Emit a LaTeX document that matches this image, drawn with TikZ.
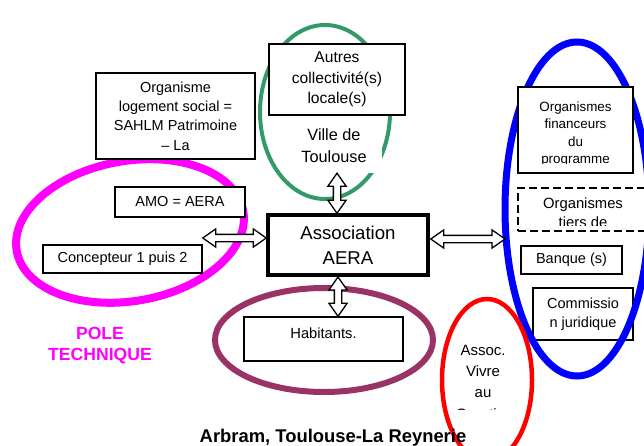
\documentclass[tikz,border=0pt]{standalone}
\usepackage{fontspec}
\setmainfont{Liberation Sans}
\usetikzlibrary{positioning, calc, shapes.arrows}
\definecolor{polepink}{RGB}{255, 0, 255}
\definecolor{villegreen}{RGB}{51, 153, 102}
\definecolor{habmaroon}{RGB}{153, 51, 102}
\definecolor{finblue}{RGB}{0, 0, 255}
\definecolor{assocred}{RGB}{255, 0, 0}
\newcommand{\fsz}[2]{\fontsize{#1}{#2}\selectfont}

\begin{document}
\begin{tikzpicture}[
    x=1pt, y=-1pt,
    box/.style={rectangle, draw, line width=1.5pt, fill=white, inner sep=0pt, align=center, font=\fsz{14.5}{19.3}},
    mainbox/.style={box, line width=3.5pt, font=\fsz{18.6}{25}},
    dashbox/.style={box, dash pattern=on 8pt off 4pt},
    txt/.style={inner sep=0pt, align=center},
    ring/.style={line width=#1},
    dblarrow/.style={double arrow, draw, line width=1.3pt, fill=white, inner sep=3pt, double arrow head extend=5.5pt, double arrow tip angle=70, double arrow head indent=0pt}
]

\useasboundingbox (0,0) rectangle (644,446);
\clip (0,0) rectangle (644,446);

% Collectivities
\draw[villegreen, ring=4pt] (325,112) ellipse [x radius=65pt, y radius=87pt];
\node[box, font=\fsz{15.6}{20.5}, minimum width=136pt, minimum height=71pt] (autres) at (337,79.5) {Autres\\collectivité(s)\\locale(s)};
\node[txt, fill=white, font=\fsz{16.3}{22}, minimum width=96pt, minimum height=54pt] (ville) at (334,146) {Ville de\\Toulouse};

% Pole technique
\draw[polepink, ring=8pt, rotate around={10:(130,231)}] (130,231) ellipse [x radius=115pt, y radius=70pt];
\node[box, minimum width=159pt, minimum height=86pt] (organisme) at (175.5,116) {Organisme\\logement social =\\SAHLM Patrimoine\\– La};
\node[box, minimum width=130pt, minimum height=30pt] (amo) at (180,202) {AMO = AERA};
\node[box, minimum width=159pt, minimum height=28pt] (concept) at (122.5,259) {Concepteur 1 puis 2};
\node[txt, polepink, font=\fsz{17.6}{21}\bfseries, anchor=north] (pole) at (100,327.5) {POLE\\TECHNIQUE};

% Financing
\node[box, minimum width=100pt, minimum height=52pt] (commission) at (583,314) {Commissio\\n juridique};
\draw[finblue, ring=7pt] (577,209) ellipse [x radius=72pt, y radius=167pt];
\node[box, minimum width=115pt, minimum height=86pt] (financeurs) at (575.5,130) {};
\begin{scope}
  \clip (financeurs.north west) rectangle ([yshift=10pt]financeurs.south east);
  \node[txt, font=\fsz{13.4}{17.5}, anchor=north] (fintext) at ([yshift=-15pt]financeurs.north) {Organismes\\financeurs\\du\\programme};
\end{scope}
\node[dashbox, minimum width=132pt, minimum height=43pt] (tiers) at (584,209.5) {};
\begin{scope}
  \clip (tiers.north west) rectangle ([yshift=6pt]tiers.south east);
  \node[txt, font=\fsz{14.8}{19}, anchor=north] (tierstext) at (583,197.7) {Organismes\\tiers de};
\end{scope}
\node[box, minimum width=101pt, minimum height=28pt] (banque) at (571.5,260) {Banque (s)};

% Inhabitants
\draw[habmaroon, ring=6pt] (324,340) ellipse [x radius=109pt, y radius=52pt];
\node[box, minimum width=159pt, minimum height=44pt] (habitants) at (323.5,339) {};
\node[txt, font=\fsz{14.7}{19}] (habtext) at (323.5,333) {Habitants.};

% Neighbourhood association
\draw[assocred, ring=4.5pt] (487,380) ellipse [x radius=45pt, y radius=81pt];
\begin{scope}
  \clip (440,300) rectangle (535,409);
  \node[txt, font=\fsz{15}{21.3}, anchor=north] (assoctext) at (483,344.6) {Assoc.\\Vivre\\au\\Quartier};
\end{scope}

% Centre
\node[mainbox, minimum width=160pt, minimum height=60pt] (aera) at (348,245) {Association\\AERA};

% Arrows
\coordinate (lB) at ([yshift=7pt]aera.west);
\coordinate (lA) at (concept.east |- lB);
\coordinate (rA) at ([xshift=1pt,yshift=6pt]aera.east);
\coordinate (rB) at (505,239);
\coordinate (tA) at ([xshift=3pt]ville.south);
\coordinate (tB) at (aera.north -| tA);
\coordinate (bA) at (338,277);
\coordinate (bB) at (habitants.north -| bA);
\path let \p1=($(lB)-(lA)$), \n1={veclen(\x1,\y1)} in node[dblarrow, minimum height=\n1] (arrowL) at ($(lA)!.5!(lB)$) {};
\path let \p1=($(rB)-(rA)$), \n1={veclen(\x1,\y1)} in node[dblarrow, minimum height=\n1] (arrowR) at ($(rA)!.5!(rB)$) {};
\path let \p1=($(tB)-(tA)$), \n1={veclen(\x1,\y1)} in node[dblarrow, rotate=90, minimum height=\n1] (arrowT) at ($(tA)!.5!(tB)$) {};
\path let \p1=($(bB)-(bA)$), \n1={veclen(\x1,\y1)} in node[dblarrow, rotate=90, minimum height=\n1] (arrowB) at ($(bA)!.5!(bB)$) {};

% Title
\node[txt, font=\fsz{18.4}{22}\bfseries, anchor=base] (title) at (333,442) {Arbram, Toulouse-La Reynerie};

\end{tikzpicture}
\end{document}
